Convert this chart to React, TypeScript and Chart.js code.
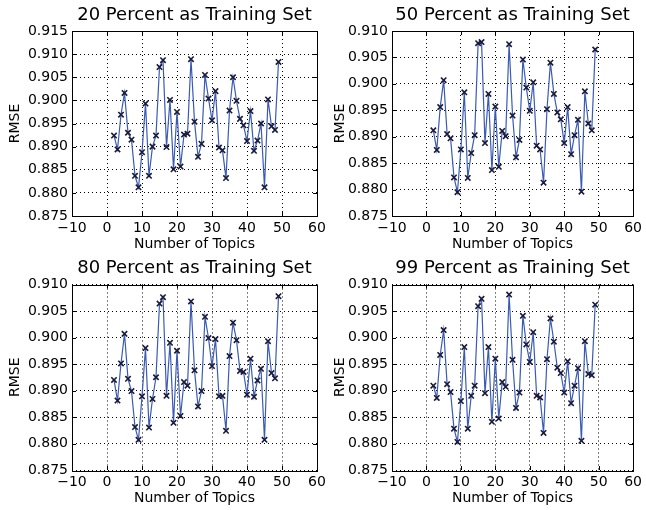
import React, { useEffect, useRef } from "react";
import { Chart, registerables } from "chart.js";

Chart.register(...registerables);

// ---------- data ----------
const topics = [
  2, 3, 4, 5, 6, 7, 8, 9, 10, 11, 12, 13, 14, 15, 16, 17, 18, 19, 20, 21, 22, 23, 24, 25,
  26, 27, 28, 29, 30, 31, 32, 33, 34, 35, 36, 37, 38, 39, 40, 41, 42, 43, 44, 45, 46, 47, 48, 49,
];

const rmse20 = [
  0.8924, 0.8894, 0.8969, 0.9016, 0.893, 0.8915, 0.8837, 0.8812, 0.8888, 0.8993, 0.8837, 0.89,
  0.8924, 0.9072, 0.9087, 0.8899, 0.9001, 0.8851, 0.8975, 0.8857, 0.8926, 0.8928, 0.9089, 0.8954,
  0.8878, 0.8906, 0.9055, 0.9004, 0.8957, 0.902, 0.8898, 0.8892, 0.8832, 0.8978, 0.905, 0.8999,
  0.896, 0.8946, 0.8912, 0.8977, 0.8891, 0.8913, 0.895, 0.8812, 0.9002, 0.8944, 0.8936, 0.9083,
];

const rmse50 = [
  0.8912, 0.8875, 0.8956, 0.9007, 0.8905, 0.8897, 0.8823, 0.8795, 0.8876, 0.8984, 0.8822, 0.8869,
  0.8903, 0.9077, 0.9079, 0.8888, 0.8981, 0.8837, 0.8957, 0.8843, 0.8911, 0.8901, 0.9075, 0.894,
  0.8861, 0.8894, 0.9046, 0.8993, 0.8949, 0.9003, 0.8883, 0.8876, 0.8813, 0.8952, 0.904, 0.8981,
  0.8946, 0.8933, 0.8888, 0.8956, 0.8867, 0.8903, 0.8932, 0.8796, 0.8986, 0.8925, 0.8912, 0.9065,
];

const rmse80 = [
  0.892, 0.8881, 0.8951, 0.9007, 0.8922, 0.8899, 0.8831, 0.8807, 0.8889, 0.898, 0.883, 0.8884,
  0.8925, 0.9064, 0.9076, 0.889, 0.899, 0.8839, 0.8975, 0.8852, 0.8916, 0.8909, 0.9068, 0.8938,
  0.887, 0.8899, 0.9039, 0.8999, 0.8946, 0.8997, 0.8889, 0.889, 0.8824, 0.8965, 0.9028, 0.8995,
  0.8937, 0.8935, 0.8892, 0.896, 0.8888, 0.8919, 0.8941, 0.8807, 0.8993, 0.8933, 0.8923, 0.9078,
];

const rmse99 = [
  0.8909, 0.8886, 0.8967, 0.9014, 0.8912, 0.8897, 0.8828, 0.8803, 0.888, 0.8982, 0.8828, 0.889,
  0.8909, 0.9059, 0.9073, 0.8895, 0.8982, 0.8841, 0.896, 0.8847, 0.8916, 0.8907, 0.9081, 0.8958,
  0.8867, 0.8896, 0.9041, 0.8987, 0.8954, 0.901, 0.889, 0.8887, 0.882, 0.8959, 0.9036, 0.8992,
  0.8943, 0.8933, 0.8896, 0.8955, 0.8876, 0.8909, 0.8942, 0.8805, 0.8993, 0.8931, 0.8929, 0.9062,
];

const xTicks = [-10, 0, 10, 20, 30, 40, 50, 60];
const yTicksWide = [0.875, 0.88, 0.885, 0.89, 0.895, 0.9, 0.905, 0.91, 0.915];
const yTicksNarrow = [0.875, 0.88, 0.885, 0.89, 0.895, 0.9, 0.905, 0.91];

const panelTitles = [
  "20 Percent as Training Set",
  "50 Percent as Training Set",
  "80 Percent as Training Set",
  "99 Percent as Training Set",
];
const xLabel = "Number of Topics";
const yLabel = "RMSE";

// ---------- styling / layout ----------
const W = 646;
const H = 510;
const FONT = "'DejaVu Sans', sans-serif";
const LINE_COLOR = "#3a5bb4";
const MARK_COLOR = "#1a1a3a";

type Panel = {
  title: string;
  values: number[];
  yTicks: number[];
  L: number;
  R: number;
  T: number;
  B: number;
  yW: number;
  xH: number;
};

const panels: Panel[] = [
  { title: panelTitles[0], values: rmse20, yTicks: yTicksWide, L: 72, R: 317, T: 31, B: 216, yW: 69, xH: 35 },
  { title: panelTitles[1], values: rmse50, yTicks: yTicksNarrow, L: 392, R: 638.5, T: 31, B: 216, yW: 64, xH: 35 },
  { title: panelTitles[2], values: rmse80, yTicks: yTicksNarrow, L: 72, R: 317, T: 284.5, B: 470, yW: 69, xH: 35 },
  { title: panelTitles[3], values: rmse99, yTicks: yTicksNarrow, L: 392, R: 638.5, T: 284.5, B: 470, yW: 64, xH: 35 },
];

const fmtX = (v: number) => (v < 0 ? "\u2212" + Math.abs(v) : String(v));

function makeDecor(title: string, yTicks: number[]) {
  return {
    id: "decor",
    afterDraw(chart: any) {
      const { ctx, chartArea } = chart;
      const { left, right, top, bottom } = chartArea;
      const xs = chart.scales.x;
      const ys = chart.scales.y;
      ctx.save();
      ctx.strokeStyle = "#000";
      ctx.lineWidth = 1;
      ctx.setLineDash([]);
      const tl = 4;
      ctx.beginPath();
      xTicks.forEach((v) => {
        const px = Math.round(xs.getPixelForValue(v)) + 0.5;
        if (px <= left + 1 || px >= right - 1) return;
        ctx.moveTo(px, bottom);
        ctx.lineTo(px, bottom - tl);
        ctx.moveTo(px, top);
        ctx.lineTo(px, top + tl);
      });
      yTicks.forEach((v) => {
        const py = Math.round(ys.getPixelForValue(v)) + 0.5;
        if (py <= top + 1 || py >= bottom - 1) return;
        ctx.moveTo(left, py);
        ctx.lineTo(left + tl, py);
        ctx.moveTo(right, py);
        ctx.lineTo(right - tl, py);
      });
      ctx.stroke();
      ctx.strokeRect(Math.round(left) + 0.5, Math.round(top) + 0.5, Math.round(right - left), Math.round(bottom - top));
      ctx.fillStyle = "#000";
      ctx.font = `18px ${FONT}`;
      ctx.textAlign = "center";
      ctx.textBaseline = "middle";
      ctx.fillText(title, (left + right) / 2, top - 16);
      ctx.restore();
    },
  };
}

function PanelChart({ p }: { p: Panel }) {
  const ref = useRef<HTMLCanvasElement | null>(null);
  useEffect(() => {
    if (!ref.current) return;
    const chart = new Chart(ref.current, {
      type: "line",
      data: {
        datasets: [
          {
            data: topics.map((x, i) => ({ x, y: p.values[i] })),
            borderColor: LINE_COLOR,
            borderWidth: 1.2,
            pointStyle: "crossRot",
            pointRadius: 3.8,
            pointBorderColor: MARK_COLOR,
            pointBackgroundColor: MARK_COLOR,
            pointBorderWidth: 1.6,
            tension: 0,
            fill: false,
          },
        ],
      },
      options: {
        responsive: false,
        animation: false,
        devicePixelRatio: 1,
        layout: {
          padding: {
            left: p.L - p.yW,
            right: W - p.R,
            top: p.T,
            bottom: Math.max(0, H - p.B - p.xH),
          },
        },
        plugins: {
          legend: { display: false },
          tooltip: { enabled: false },
          title: { display: false },
        },
        scales: {
          x: {
            type: "linear",
            min: -10,
            max: 60,
            afterBuildTicks: (s: any) => {
              s.ticks = xTicks.map((v) => ({ value: v }));
            },
            afterFit: (s: any) => {
              s.height = p.xH;
            },
            ticks: {
              autoSkip: false,
              maxRotation: 0,
              padding: 4,
              color: "#000",
              font: { family: FONT, size: 14 },
              callback: (v: any) => fmtX(Number(v)),
            },
            grid: { color: "#000", lineWidth: 1, drawTicks: false },
            border: { display: false, dash: [1, 3] },
            title: {
              display: true,
              text: xLabel,
              color: "#000",
              font: { family: FONT, size: 14, lineHeight: 1 },
              padding: { top: 0, bottom: 0 },
            },
          },
          y: {
            type: "linear",
            min: 0.875,
            max: p.yTicks[p.yTicks.length - 1],
            afterBuildTicks: (s: any) => {
              s.ticks = p.yTicks.map((v) => ({ value: v }));
            },
            afterFit: (s: any) => {
              s.width = p.yW;
            },
            ticks: {
              autoSkip: false,
              padding: 4,
              color: "#000",
              font: { family: FONT, size: 14 },
              callback: (v: any) => Number(v).toFixed(3),
            },
            grid: { color: "#000", lineWidth: 1, drawTicks: false },
            border: { display: false, dash: [1, 3] },
            title: {
              display: true,
              text: yLabel,
              color: "#000",
              font: { family: FONT, size: 14 },
              padding: { top: 4, bottom: 0 },
            },
          },
        },
      } as any,
      plugins: [makeDecor(p.title, p.yTicks)],
    });
    return () => chart.destroy();
  }, [p]);
  return (
    <canvas
      ref={ref}
      width={W}
      height={H}
      style={{ position: "absolute", left: 0, top: 0, width: W, height: H }}
    />
  );
}

export default function App() {
  return (
    <div
      style={{
        position: "fixed",
        left: 0,
        top: 0,
        width: W,
        height: H,
        background: "#fff",
        overflow: "hidden",
      }}
    >
      {panels.map((p, i) => (
        <PanelChart key={i} p={p} />
      ))}
    </div>
  );
}
